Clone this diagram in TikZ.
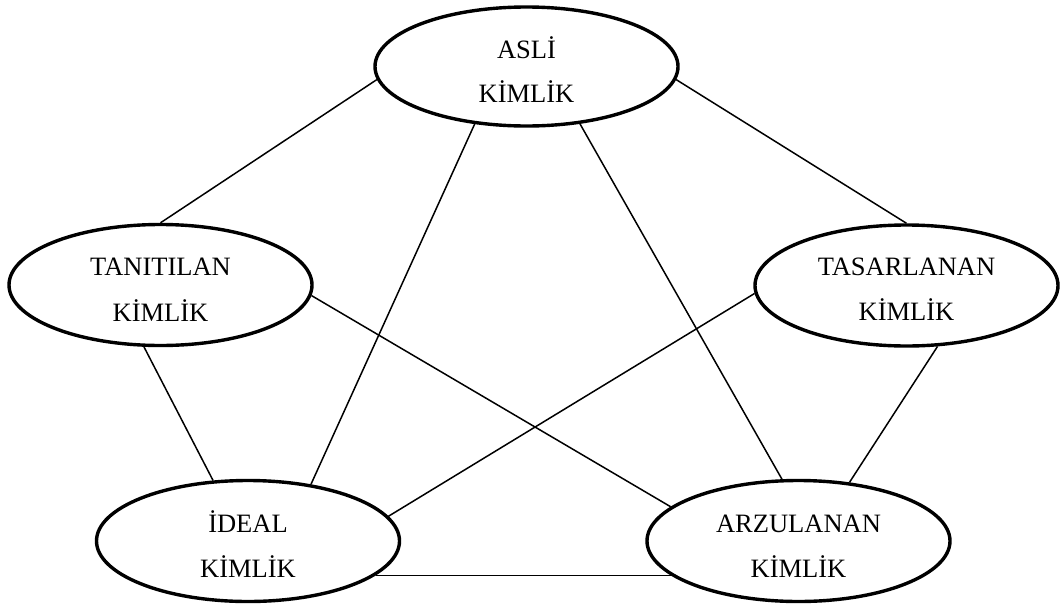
\documentclass[tikz,border=0pt]{standalone}
\usepackage{fontspec}
\setmainfont{Liberation Serif}
\usetikzlibrary{shapes.geometric}

\tikzset{
  idbox/.style={ellipse, draw=black, line width=3.4pt, fill=white,
    inner sep=0pt, minimum width=303pt, minimum height=121pt},
  idtext/.style={anchor=base, inner sep=0pt,
    font=\fontsize{26.5pt}{30pt}\selectfont},
  link/.style={draw=black, line width=1.5pt}
}

\begin{document}
\begin{tikzpicture}[x=1pt, y=-1pt]
  \useasboundingbox (0,0) rectangle (1063,608);

  % the five identity ellipses
  \node[idbox, minimum height=119pt] (asli) at (526.5,66.5) {};
  \node[idbox] (tani) at (160.5,285) {};
  \node[idbox] (tasa) at (906.5,285.5) {};
  \node[idbox] (ideal) at (248,541) {};
  \node[idbox] (arzu) at (798.5,541) {};

  % labels, two lines each
  \node[idtext] (asli-a) at (526.5,58) {ASLİ};
  \node[idtext] (asli-b) at (526.5,102) {KİMLİK};
  \node[idtext] (tani-a) at (160.5,275) {TANITILAN};
  \node[idtext] (tani-b) at (160.5,321) {KİMLİK};
  \node[idtext] (tasa-a) at (906.5,275) {TASARLANAN};
  \node[idtext] (tasa-b) at (906.5,320.5) {KİMLİK};
  \node[idtext] (ideal-a) at (248,532) {İDEAL};
  \node[idtext] (ideal-b) at (248,577) {KİMLİK};
  \node[idtext] (arzu-a) at (798.5,532) {ARZULANAN};
  \node[idtext] (arzu-b) at (798.5,577) {KİMLİK};

  % every pair of identities is linked
  \draw[link] (asli.185.1) -- (tani.90);
  \draw[link] (asli.355.3) -- (tasa.90);
  \draw[link] (asli.228) -- (ideal.42);
  \draw[link] (asli.313.3) -- (arzu.105.2);
  \draw[link] (tani.255.7) -- (ideal.120.5);
  \draw[link] (tani.356.2) -- (arzu.165.8);
  \draw[link] (tasa.183.6) -- (ideal.10.4);
  \draw[link] (tasa.297.6) -- (arzu.49.3);
  \draw[link] (ideal.345) -- (arzu.195.2);
\end{tikzpicture}
\end{document}
